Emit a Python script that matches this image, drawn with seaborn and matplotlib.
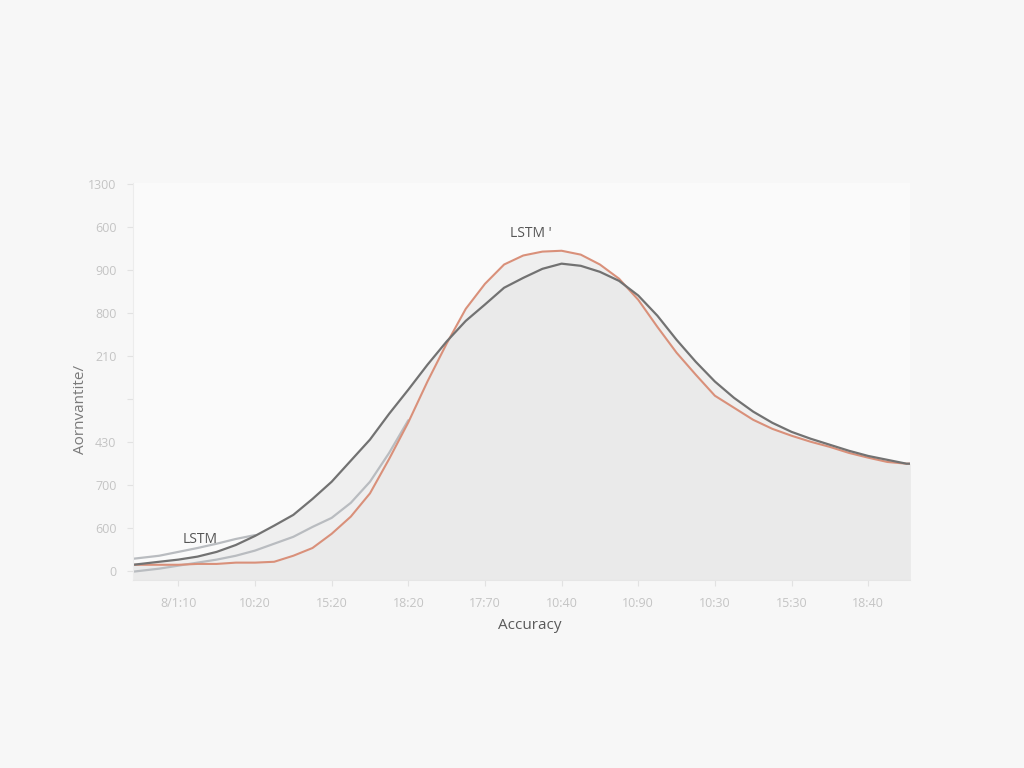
import matplotlib
matplotlib.use('Agg')
import matplotlib.pyplot as plt
import seaborn as sns
import pandas as pd

# x positions in tick units (tick i sits at x = i)
x_main = [-0.59, -0.25, 0.0, 0.25, 0.5, 0.75, 1.0, 1.25, 1.5, 1.75, 2.0, 2.25, 2.5, 2.75,
          3.0, 3.25, 3.5, 3.75, 4.0, 4.25, 4.5, 4.75, 5.0, 5.25, 5.5, 5.75, 6.0, 6.25,
          6.5, 6.75, 7.0, 7.25, 7.5, 7.75, 8.0, 8.25, 8.5, 8.75, 9.0, 9.25, 9.5, 9.55]
dark_vals = [0.14, 0.21, 0.26, 0.33, 0.44, 0.60, 0.81, 1.05, 1.30, 1.67, 2.07, 2.56, 3.05, 3.65,
             4.21, 4.79, 5.33, 5.81, 6.19, 6.58, 6.81, 7.02, 7.14, 7.09, 6.95, 6.74, 6.40, 5.93,
             5.37, 4.86, 4.40, 4.02, 3.70, 3.44, 3.23, 3.07, 2.93, 2.79, 2.67, 2.58, 2.49, 2.49]
orange_vals = [0.14, 0.14, 0.14, 0.16, 0.16, 0.19, 0.19, 0.21, 0.35, 0.53, 0.86, 1.26, 1.80, 2.60,
               3.45, 4.40, 5.28, 6.09, 6.67, 7.12, 7.33, 7.42, 7.44, 7.35, 7.12, 6.79, 6.30, 5.67,
               5.07, 4.56, 4.07, 3.79, 3.51, 3.30, 3.14, 3.00, 2.88, 2.74, 2.63, 2.53, 2.49, 2.49]
x_low = [-0.59, -0.25, 0.0, 0.25, 0.5, 0.75, 1.0, 1.25, 1.5, 1.75, 2.0, 2.25, 2.5, 2.75, 3.0]
low_vals = [-0.02, 0.05, 0.12, 0.19, 0.26, 0.35, 0.47, 0.63, 0.79, 1.02, 1.23, 1.58, 2.07, 2.74,
            3.50]
x_up = [-0.59, -0.25, 0.0, 0.25, 0.5, 0.75, 1.0]
up_vals = [0.28, 0.35, 0.44, 0.53, 0.63, 0.74, 0.83]

x_ticklabels = ['8/1:10', '10:20', '15:20', '18:20', '17:70',
                '10:40', '10:90', '10:30', '15:30', '18:40']
y_ticklabels = ['0', '600', '700', '430', '', '210', '800', '900', '600', '1300']

sns.set_style("white")
plt.rcParams['font.family'] = ['Open Sans', 'DejaVu Sans']

bg = '#f7f7f7'
fig = plt.figure(figsize=(10.24, 7.68), dpi=100, facecolor=bg)
ax = fig.add_axes([0.130, 0.245, 0.759, 0.517])
ax.set_facecolor('#fafafa')

df = pd.DataFrame({'x': x_main, 'dark': dark_vals, 'orange': orange_vals})

# soft fill under the curves
ax.fill_between(df['x'], -0.21, df['dark'], color='#e6e6e6', alpha=0.5, lw=0)
ax.fill_between(df['x'], -0.21, df['orange'], color='#e6e6e6', alpha=0.5, lw=0)

line_kw = dict(solid_capstyle='round', solid_joinstyle='round')
sns.lineplot(x=x_up, y=up_vals, color='#b9bcc0', lw=1.6, ax=ax, **line_kw)
sns.lineplot(x=x_low, y=low_vals, color='#b9bcc0', lw=1.6, ax=ax, **line_kw)
sns.lineplot(data=df, x='x', y='orange', color='#d9907a', lw=1.5, ax=ax, **line_kw)
sns.lineplot(data=df, x='x', y='dark', color='#727272', lw=1.6, ax=ax, **line_kw)

ax.set_xlim(-0.59, 9.55)
ax.set_ylim(-0.21, 9.02)
ax.set_xticks(range(10))
ax.set_xticklabels(x_ticklabels)
ax.set_yticks(range(10))
ax.set_yticklabels(y_ticklabels)
ax.tick_params(axis='both', colors='#e2e2e2', labelcolor='#c4c4c4', labelsize=9,
               length=4, width=0.8, left=True, bottom=True)
ax.tick_params(axis='x', pad=8)
ax.tick_params(axis='y', pad=8)

for side in ['top', 'right']:
    ax.spines[side].set_visible(False)
ax.spines['left'].set_color('#ececec')
ax.spines['bottom'].set_color('#e6e6e6')

ax.set_xlabel('Accuracy', fontsize=11, color='#5a5a5a')
ax.xaxis.set_label_coords(0.51, -0.095)
ax.set_ylabel('Aornvantite/', fontsize=11, color='#7a7a7a')
ax.yaxis.set_label_coords(-0.058, 0.43)

ax.text(0.29, 0.73, 'LSTM', fontsize=10, color='#555555', ha='center', va='center')
ax.text(4.6, 7.85, "LSTM '", fontsize=10, color='#555555', ha='center', va='center')

plt.savefig('out.png', dpi=100, facecolor=bg)
plt.close()
